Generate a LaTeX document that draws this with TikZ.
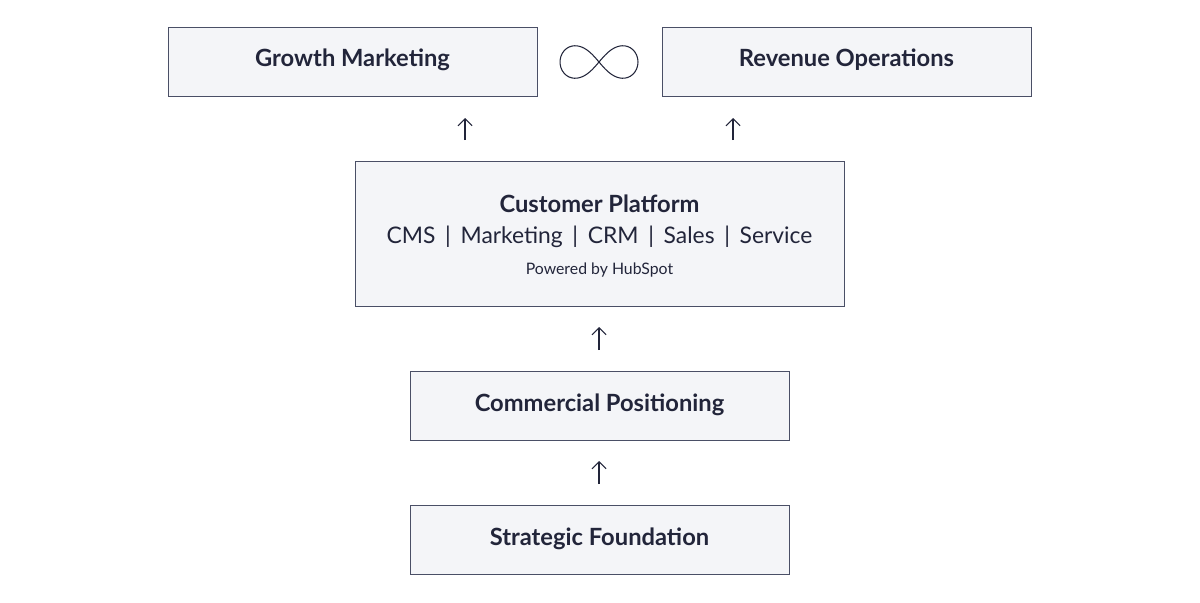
\documentclass[tikz,border=0pt]{standalone}
\usepackage{fontspec}
\setmainfont{Lato}
\usetikzlibrary{arrows.meta}
\definecolor{boxfill}{HTML}{F4F5F8}
\definecolor{boxline}{HTML}{4A4F66}
\definecolor{ink}{HTML}{22253A}
\tikzstyle{every node}=[text=ink]
\tikzstyle{block}=[draw=boxline,fill=boxfill,line width=0.5pt,inner sep=0pt]
\tikzstyle{uparrow}=[draw=ink,line width=0.6pt,-{Straight Barb[length=4pt,width=8pt]}]
\newcommand{\titlefont}{\fontsize{13.5}{15}\selectfont\bfseries}

\begin{document}
\begin{tikzpicture}[x=0.02cm,y=-0.02cm]
    \useasboundingbox (0,0) rectangle (1200,602);
    \node[block,minimum width=7.38cm,minimum height=1.38cm]
        (growth) at (352.5,61.5) {\titlefont\strut Growth Marketing};
    \node[block,minimum width=7.38cm,minimum height=1.38cm]
        (revops) at (846.5,61.5) {\titlefont\strut Revenue Operations};
    \node[block,minimum width=9.78cm,minimum height=2.9cm]
        (platform) at (599.5,233.5) {};
    \node (platformtitle) at (599.5,204) {\titlefont Customer Platform};
    \node (platformlist) at (599.5,237) {\fontsize{13}{15}\selectfont CMS\ \,|\ \,Marketing\ \,|\ \,CRM\ \,|\ \,Sales\ \,|\ \,Service};
    \node (platformnote) at (599.5,270) {\fontsize{9}{10}\selectfont Powered by HubSpot};
    \node[block,minimum width=7.58cm,minimum height=1.38cm]
        (commercial) at (599.5,406) {\titlefont\strut Commercial Positioning};
    \node[block,minimum width=7.58cm,minimum height=1.38cm]
        (strategic) at (599.5,540) {\titlefont\strut Strategic Foundation};
    % infinity sign
    \draw[draw=ink,line width=0.6pt,smooth,samples=80,domain=0:360,variable=\t]
        plot ({599+39*cos(\t)/(1+sin(\t)^2)},{62+46*sin(\t)*cos(\t)/(1+sin(\t)^2)});
    % arrows between levels
    \coordinate (a1) at (465,140); \coordinate (b1) at (465,118);
    \coordinate (a2) at (733,140); \coordinate (b2) at (733,118);
    \coordinate (a3) at (599,350); \coordinate (b3) at (599,327);
    \coordinate (a4) at (599,484); \coordinate (b4) at (599,461);
    \foreach \i in {1,...,4}
        \draw[uparrow] (a\i) -- (b\i);
\end{tikzpicture}
\end{document}
